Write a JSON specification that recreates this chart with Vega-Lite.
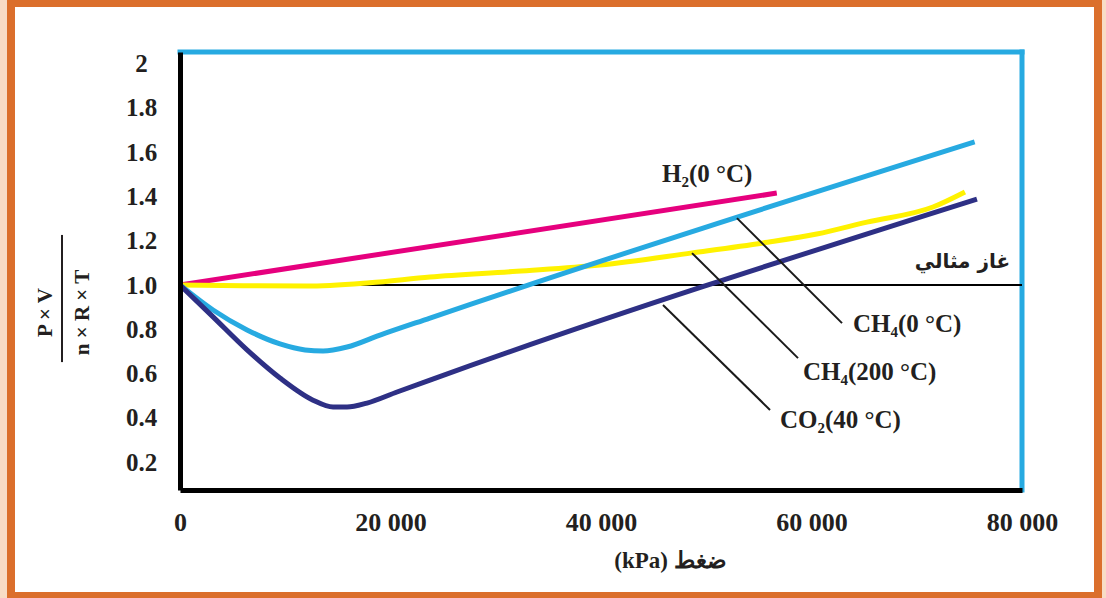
{
  "$schema": "https://vega.github.io/schema/vega-lite/v6.json",
  "width": 842,
  "height": 438,
  "autosize": "none",
  "padding": {"left": 180, "top": 52, "right": 84, "bottom": 108},
  "background": "#f8dcc6",
  "config": {"view": {"stroke": null}, "font": "Liberation Serif"},
  "datasets": {
    "one": [{}],
    "curves": [
      {"gas": "H2", "p": 0, "z": 1.0},
      {"gas": "H2", "p": 56700, "z": 1.415},
      {"gas": "CH4_200", "p": 0, "z": 1.0},
      {"gas": "CH4_200", "p": 6000, "z": 0.997},
      {"gas": "CH4_200", "p": 12000, "z": 0.995},
      {"gas": "CH4_200", "p": 18000, "z": 1.01},
      {"gas": "CH4_200", "p": 23750, "z": 1.036},
      {"gas": "CH4_200", "p": 32000, "z": 1.062},
      {"gas": "CH4_200", "p": 39900, "z": 1.09},
      {"gas": "CH4_200", "p": 48650, "z": 1.145},
      {"gas": "CH4_200", "p": 55400, "z": 1.19},
      {"gas": "CH4_200", "p": 60500, "z": 1.23},
      {"gas": "CH4_200", "p": 65270, "z": 1.284},
      {"gas": "CH4_200", "p": 71540, "z": 1.352},
      {"gas": "CH4_200", "p": 74580, "z": 1.42},
      {"gas": "CH4_0", "p": 0, "z": 1.0},
      {"gas": "CH4_0", "p": 3140, "z": 0.887},
      {"gas": "CH4_0", "p": 6370, "z": 0.797},
      {"gas": "CH4_0", "p": 9500, "z": 0.734},
      {"gas": "CH4_0", "p": 11880, "z": 0.707},
      {"gas": "CH4_0", "p": 13590, "z": 0.702},
      {"gas": "CH4_0", "p": 15870, "z": 0.72},
      {"gas": "CH4_0", "p": 19000, "z": 0.774},
      {"gas": "CH4_0", "p": 23750, "z": 0.851},
      {"gas": "CH4_0", "p": 75500, "z": 1.646},
      {"gas": "CO2", "p": 0, "z": 1.0},
      {"gas": "CO2", "p": 3140, "z": 0.856},
      {"gas": "CO2", "p": 6370, "z": 0.707},
      {"gas": "CO2", "p": 9500, "z": 0.58},
      {"gas": "CO2", "p": 12640, "z": 0.48},
      {"gas": "CO2", "p": 14540, "z": 0.449},
      {"gas": "CO2", "p": 15870, "z": 0.449},
      {"gas": "CO2", "p": 17770, "z": 0.467},
      {"gas": "CO2", "p": 20620, "z": 0.517},
      {"gas": "CO2", "p": 23750, "z": 0.571},
      {"gas": "CO2", "p": 75720, "z": 1.388}
    ],
    "leaders": [
      {"p": 52920, "z": 1.302, "p2": 62900, "z2": 0.828},
      {"p": 48650, "z": 1.144, "p2": 58720, "z2": 0.67},
      {"p": 45890, "z": 0.91, "p2": 56060, "z2": 0.436}
    ],
    "labels": [
      {"label": "H₂(0 °C)", "p": 45800, "z": 1.465},
      {"label": "CH₄(0 °C)", "p": 63940, "z": 0.788},
      {"label": "CH₄(200 °C)", "p": 59190, "z": 0.571},
      {"label": "CO₂(40 °C)", "p": 57000, "z": 0.353}
    ],
    "arabic": [
      {"label": "غاز مثالي", "p": 78870, "z": 1.077}
    ]
  },
  "layer": [
    {
      "data": {"name": "one"},
      "mark": {"type": "rect", "fill": "white", "stroke": "#db6f2c", "strokeWidth": 8},
      "encoding": {
        "x": {"datum": -16057, "type": "quantitative", "scale": {"domain": [0, 80000], "nice": false, "zero": false}},
        "x2": {"datum": 87221},
        "y": {"datum": 2.273, "type": "quantitative", "scale": {"domain": [0.0745, 2.052], "nice": false, "zero": false}},
        "y2": {"datum": -0.404}
      }
    },
    {
      "data": {"name": "one"},
      "mark": {"type": "rule", "color": "#27aae1", "strokeWidth": 5, "strokeCap": "square"},
      "encoding": {
        "x": {"datum": 0, "type": "quantitative"},
        "x2": {"datum": 80000},
        "y": {"datum": 2.052, "type": "quantitative"}
      }
    },
    {
      "data": {"name": "one"},
      "mark": {"type": "rule", "color": "#27aae1", "strokeWidth": 5, "strokeCap": "square"},
      "encoding": {
        "x": {"datum": 80000, "type": "quantitative"},
        "y": {"datum": 0.0745, "type": "quantitative"},
        "y2": {"datum": 2.052}
      }
    },
    {
      "data": {"name": "one"},
      "mark": {"type": "rule", "color": "#000000", "strokeWidth": 2},
      "encoding": {
        "x": {"datum": 0, "type": "quantitative"},
        "x2": {"datum": 80000},
        "y": {"datum": 1.0, "type": "quantitative"}
      }
    },
    {
      "data": {"name": "curves"},
      "mark": {"type": "line", "strokeWidth": 5, "interpolate": "monotone"},
      "encoding": {
        "x": {
          "field": "p", "type": "quantitative",
          "scale": {"domain": [0, 80000], "nice": false, "zero": false},
          "axis": {
            "values": [0, 20000, 40000, 60000, 80000],
            "labelExpr": "datum.value === 0 ? '0' : format(datum.value / 1000, 'd') + ' 000'",
            "title": "(kPa) ضغط",
            "titleFont": "Liberation Serif", "titleFontWeight": "bold", "titleFontSize": 23, "titleColor": "#231f20",
            "titleX": 490, "titleY": 70, "titleAlign": "center", "titleBaseline": "middle",
            "domainColor": "#000000", "domainWidth": 5, "ticks": false, "tickSize": 0, "grid": false,
            "labelFont": "Liberation Serif", "labelFontWeight": "bold", "labelFontSize": 26, "labelColor": "#231f20",
            "labelPadding": 19, "labelFlush": false, "labelOverlap": false, "labelBound": false,
            "zindex": 2
          }
        },
        "y": {
          "field": "z", "type": "quantitative",
          "scale": {"domain": [0.0745, 2.052], "nice": false, "zero": false},
          "axis": {
            "values": [0.2, 0.4, 0.6, 0.8, 1.0, 1.2, 1.4, 1.6, 1.8, 2],
            "labelExpr": "datum.value === 2 ? '2' : format(datum.value, '.1f')",
            "title": ["P × V", "n × R × T"],
            "titleFont": "Liberation Serif", "titleFontWeight": "bold", "titleFontSize": 21, "titleColor": "#231f20",
            "titleX": -135, "titleY": 260, "titleAlign": "center", "titleBaseline": "middle", "titleLineHeight": 37, "titleAngle": -90,
            "domainColor": "#000000", "domainWidth": 5, "ticks": false, "tickSize": 0, "grid": false,
            "labelFont": "Liberation Serif", "labelFontWeight": "bold", "labelFontSize": 25, "labelColor": "#231f20",
            "labelAlign": "center", "labelPadding": 39, "labelOverlap": false, "labelBound": false,
            "zindex": 2
          }
        },
        "color": {
          "field": "gas", "type": "nominal",
          "scale": {"domain": ["H2", "CH4_200", "CH4_0", "CO2"], "range": ["#e6007e", "#fff200", "#27aae1", "#2e3085"]},
          "legend": null
        },
        "order": {"field": "p", "type": "quantitative"}
      }
    },
    {
      "data": {"name": "leaders"},
      "mark": {"type": "rule", "color": "#1a1a1a", "strokeWidth": 2},
      "encoding": {
        "x": {"field": "p", "type": "quantitative"},
        "x2": {"field": "p2"},
        "y": {"field": "z", "type": "quantitative"},
        "y2": {"field": "z2"}
      }
    },
    {
      "data": {"name": "labels"},
      "mark": {"type": "text", "align": "left", "baseline": "alphabetic", "font": "Liberation Serif", "fontWeight": "bold", "fontSize": 25, "color": "#231f20"},
      "encoding": {
        "x": {"field": "p", "type": "quantitative"},
        "y": {"field": "z", "type": "quantitative"},
        "text": {"field": "label"}
      }
    },
    {
      "data": {"name": "arabic"},
      "mark": {"type": "text", "align": "right", "baseline": "alphabetic", "font": "DejaVu Sans", "fontWeight": "bold", "fontSize": 20, "color": "#231f20"},
      "encoding": {
        "x": {"field": "p", "type": "quantitative"},
        "y": {"field": "z", "type": "quantitative"},
        "text": {"field": "label"}
      }
    },
    {
      "data": {"name": "one"},
      "mark": {"type": "rule", "color": "#231f20", "strokeWidth": 2},
      "encoding": {
        "x": {"datum": -11210, "type": "quantitative"},
        "y": {"datum": 0.652, "type": "quantitative"},
        "y2": {"datum": 1.226}
      }
    }
  ]
}
